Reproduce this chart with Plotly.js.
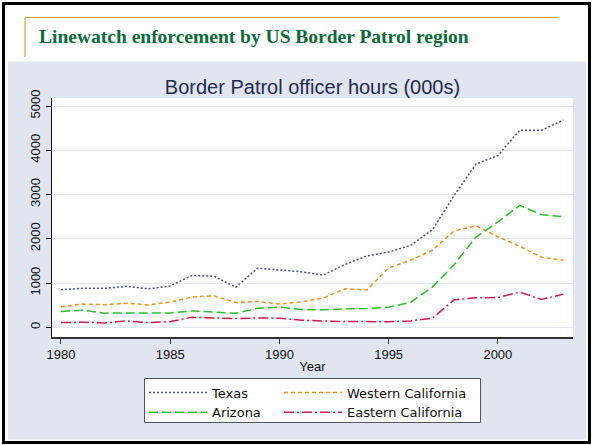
<!DOCTYPE html>
<html>
<head>
<meta charset="utf-8">
<script src="https://cdn.plot.ly/plotly-3.0.1.min.js"></script>
<style>
html,body{margin:0;padding:0;background:#fff;}
#chart{width:592px;height:445px;}
</style>
</head>
<body>
<div id="chart"></div>
<script>
const years = [1980,1981,1982,1983,1984,1985,1986,1987,1988,1989,1990,1991,1992,1993,1994,1995,1996,1997,1998,1999,2000,2001,2002,2003];
const texas = [850,880,880,925,870,935,1170,1155,905,1335,1295,1255,1180,1420,1610,1700,1850,2200,2980,3690,3880,4455,4455,4680];
const westernCalifornia = [465,525,510,545,505,570,685,712,560,585,525,575,660,870,845,1340,1515,1740,2175,2295,2045,1830,1585,1515];
const arizona = [356,386,320,318,312,326,371,350,318,432,455,405,395,417,424,455,561,909,1417,2040,2381,2754,2545,2500];
const easternCalifornia = [106,114,100,144,106,129,227,220,197,212,205,159,136,129,129,125,144,205,621,667,674,795,629,750];
const seriesNames = ["Texas","Western California","Arizona","Eastern California"];
const slideTitle = "Linewatch enforcement by US Border Patrol region";
const chartTitle = "Border Patrol officer hours (000s)";
const xTitle = "Year";

// layout geometry (pixels)
const W = 592, H = 445, L = 52, R = 573, T = 98, B = 337;
const pw = R - L, ph = B - T;
const px = x => (x - L) / pw;
const py = y => (B - y) / ph;

const traces = [
  {x: years, y: texas, name: seriesNames[0], mode: 'lines', legend: 'legend',
   line: {color: '#4d5275', width: 1.5, dash: '2px,2px'}},
  {x: years, y: westernCalifornia, name: seriesNames[1], mode: 'lines', legend: 'legend2',
   line: {color: '#f0921e', width: 1.5, dash: '4px,3px'}},
  {x: years, y: arizona, name: seriesNames[2], mode: 'lines', legend: 'legend',
   line: {color: '#2cbf2c', width: 1.5, dash: '9px,4px'}},
  {x: years, y: easternCalifornia, name: seriesNames[3], mode: 'lines', legend: 'legend2',
   line: {color: '#d01b4e', width: 1.5, dash: '10px,3px,2px,3px'}}
];

const grey = '#e1e5ef';
const shapes = [
  {type:'rect', xref:'paper', yref:'paper', x0:px(0), x1:px(W), y0:py(0), y1:py(61.5), fillcolor:'#fff', line:{width:0}, layer:'below'},
  {type:'rect', xref:'paper', yref:'paper', x0:px(0), x1:px(8), y0:py(0), y1:py(H), fillcolor:'#fff', line:{width:0}, layer:'below'},
  {type:'rect', xref:'paper', yref:'paper', x0:px(586), x1:px(W), y0:py(0), y1:py(H), fillcolor:'#fff', line:{width:0}, layer:'below'},
  {type:'rect', xref:'paper', yref:'paper', x0:px(0), x1:px(W), y0:py(439.5), y1:py(H), fillcolor:'#fff', line:{width:0}, layer:'below'},
  // legend box
  {type:'rect', xref:'paper', yref:'paper', x0:px(144.5), x1:px(480.5), y0:py(378.5), y1:py(422.5), fillcolor:'#fff', line:{color:'#555', width:1}, layer:'below'},
  {type:'rect', xref:'paper', yref:'paper', x0:px(3.5), x1:px(589.5), y0:py(3.5), y1:py(442.5), fillcolor:'rgba(0,0,0,0)', line:{color:'#000', width:3}, layer:'above'},
  {type:'line', xref:'paper', yref:'paper', x0:px(25), x1:px(558), y0:py(17.5), y1:py(17.5), line:{color:'#d4a53a', width:1.2}},
  {type:'line', xref:'paper', yref:'paper', x0:px(25), x1:px(25), y0:py(17.5), y1:py(57), line:{color:'#d4a53a', width:1.2}}
];

const legendCommon = {
  orientation: 'v', xanchor: 'left', yanchor: 'top', y: py(377.5),
  bgcolor: 'rgba(0,0,0,0)', borderwidth: 0, itemwidth: 58,
  font: {family: 'DejaVu Sans, sans-serif', size: 13, color: '#111'}, tracegroupgap: 0
};

const layout = {
  width: W, height: H,
  margin: {l: L, r: W - R, t: T, b: H - B, pad: 0},
  paper_bgcolor: grey,
  plot_bgcolor: '#ffffff',
  font: {family: 'Liberation Sans, Arial, sans-serif', color: '#111', size: 13},
  title: {text: chartTitle, xref: 'paper', x: 0.5, xanchor: 'center', yref: 'container', y: 1 - 87/H, yanchor: 'middle',
          font: {family: 'Liberation Sans, Arial, sans-serif', size: 20, color: '#1f2b4d'}},
  xaxis: {
    range: [1979.59, 2003.44], tickvals: [1980,1985,1990,1995,2000], ticktext: ['1980','1985','1990','1995','2000'],
    showgrid: false, zeroline: false, showline: true, linecolor: '#333', linewidth: 1.5,
    ticks: 'outside', ticklen: 5, tickcolor: '#333', tickwidth: 1,
    tickfont: {size: 13, color: '#111'},
    title: {text: xTitle, standoff: 1, font: {size: 13, color: '#111'}}
  },
  yaxis: {
    range: [-219, 5181], tickvals: [0,1000,2000,3000,4000,5000],
    tickangle: -90,
    showgrid: true, gridcolor: '#e4e7f0', gridwidth: 1, zeroline: false,
    showline: true, linecolor: '#111', linewidth: 1.5,
    ticks: 'outside', ticklen: 5, tickcolor: '#111', tickwidth: 1,
    tickfont: {size: 13, color: '#111'}
  },
  showlegend: true,
  legend: Object.assign({}, legendCommon, {x: px(144)}),
  legend2: Object.assign({}, legendCommon, {x: px(279)}),
  shapes: shapes,
  annotations: [
    {text: '<b>' + slideTitle + '</b>', xref: 'paper', yref: 'paper', x: px(37), y: py(36.5), xanchor: 'left', yanchor: 'middle', showarrow: false,
     font: {family: 'Liberation Serif, Times New Roman, serif', size: 19.5, color: '#0c6a3a'}}
  ]
};

Plotly.newPlot('chart', traces, layout, {displayModeBar: false, staticPlot: true});
</script>
</body>
</html>
